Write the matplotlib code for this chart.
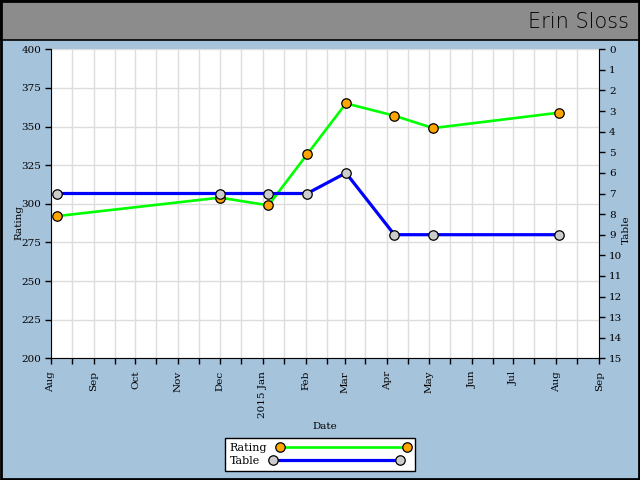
import datetime

import matplotlib
matplotlib.use('Agg')
import matplotlib.pyplot as plt
import matplotlib.dates as mdates
from matplotlib.ticker import FuncFormatter, MultipleLocator
from matplotlib.patches import Rectangle
from matplotlib.lines import Line2D

# data
dates = [datetime.date(2014, 8, 5), datetime.date(2014, 12, 1), datetime.date(2015, 1, 5),
         datetime.date(2015, 2, 2), datetime.date(2015, 3, 2), datetime.date(2015, 4, 6),
         datetime.date(2015, 5, 4), datetime.date(2015, 8, 3)]
rating = [292, 304, 299, 332, 365, 357, 349, 359]
table = [7, 7, 7, 7, 6, 9, 9, 9]

title = 'Erin Sloss'
bgBlue = '#a6c3dc'
bannerGrey = '#8c8c8c'
fs = 7.5
serif = 'DejaVu Serif'

plt.rcParams['font.family'] = serif

fig = plt.figure(figsize=(6.4, 4.8), dpi=100, facecolor=bgBlue)

# grey banner on top + outer frame
fig.patches.append(Rectangle((0, 1 - 39.5/480), 1, 39.5/480, transform=fig.transFigure,
                             facecolor=bannerGrey, edgecolor='black', lw=1.2, zorder=0))
fig.patches.append(Rectangle((0.001, 0.002), 0.997, 0.996, transform=fig.transFigure,
                             facecolor='none', edgecolor='black', lw=2, zorder=5))
fig.text(629/640, 1 - 22/480, title, ha='right', va='center', fontsize=15,
         family='DejaVu Sans', fontweight='light', color='black')

ax = fig.add_axes([51/640, (480-358.3)/480, 548.3/640, 309/480])
ax.set_facecolor('white')

ax.plot(dates, rating, color='#00ff00', lw=1.9, marker='o', ms=6.8,
        mfc='#ffa500', mec='black', mew=0.9, zorder=3)

ax.set_ylim(200, 400)
ax.yaxis.set_major_locator(MultipleLocator(25))
ax.set_xlim(datetime.date(2014, 8, 1), datetime.date(2015, 9, 1))

ax.xaxis.set_major_locator(mdates.MonthLocator())
ax.xaxis.set_minor_locator(mdates.MonthLocator(bymonthday=16))

def monthLabel(x, pos):
    d = mdates.num2date(x)
    if d.month == 1:
        return d.strftime('%Y %b')
    return d.strftime('%b')

ax.xaxis.set_major_formatter(FuncFormatter(monthLabel))
for lbl in ax.get_xticklabels():
    lbl.set_rotation(90)

ax.grid(True, which='major', axis='y', color='#dddddd', lw=1)
ax.grid(True, which='both', axis='x', color='#dddddd', lw=1)
ax.set_axisbelow(True)

ax.tick_params(axis='both', which='both', length=4, width=1, labelsize=fs, pad=3)
ax.tick_params(axis='x', which='major', pad=5)
ax.spines['top'].set_visible(False)
ax.spines['right'].set_visible(False)

ax.set_xlabel('Date', fontsize=fs, labelpad=3)
ax.set_ylabel('Rating', fontsize=fs)
ax.yaxis.set_label_coords(-0.051, 0.44)

ax2 = ax.twinx()
ax2.plot(dates, table, color='#0000ff', lw=2.3, marker='o', ms=6.8,
         mfc='#cccccc', mec='black', mew=0.9, zorder=3)
ax2.set_ylim(15, 0)
ax2.yaxis.set_major_locator(MultipleLocator(1))
ax2.tick_params(axis='y', length=4, width=1, labelsize=fs, pad=3)
ax2.spines['top'].set_visible(False)
ax2.spines['left'].set_visible(False)
ax2.spines['bottom'].set_visible(False)
ax2.set_ylabel('Table', fontsize=fs)
ax2.yaxis.set_label_coords(1.041, 0.415)

handles = [Line2D([], [], color='#00ff00', lw=1.9, marker='o', ms=6.8, mfc='#ffa500', mec='black', mew=0.9),
           Line2D([], [], color='#0000ff', lw=2.3, marker='o', ms=6.8, mfc='#cccccc', mec='black', mew=0.9)]
leg = fig.legend(handles, ['Rating', 'Table'], loc='lower center', bbox_to_anchor=(0.5, 9/480),
                 ncol=1, numpoints=2, markerfirst=False, fontsize=8, handlelength=12,
                 fancybox=False, framealpha=1, edgecolor='black', borderpad=0.45,
                 labelspacing=0.25, handletextpad=0.9, borderaxespad=0)
leg.get_frame().set_linewidth(1)
# labels left aligned like the original
for col in leg._legend_handle_box.get_children():
    col.align = 'left'

fig.savefig('out.png', dpi=100, facecolor=bgBlue)
